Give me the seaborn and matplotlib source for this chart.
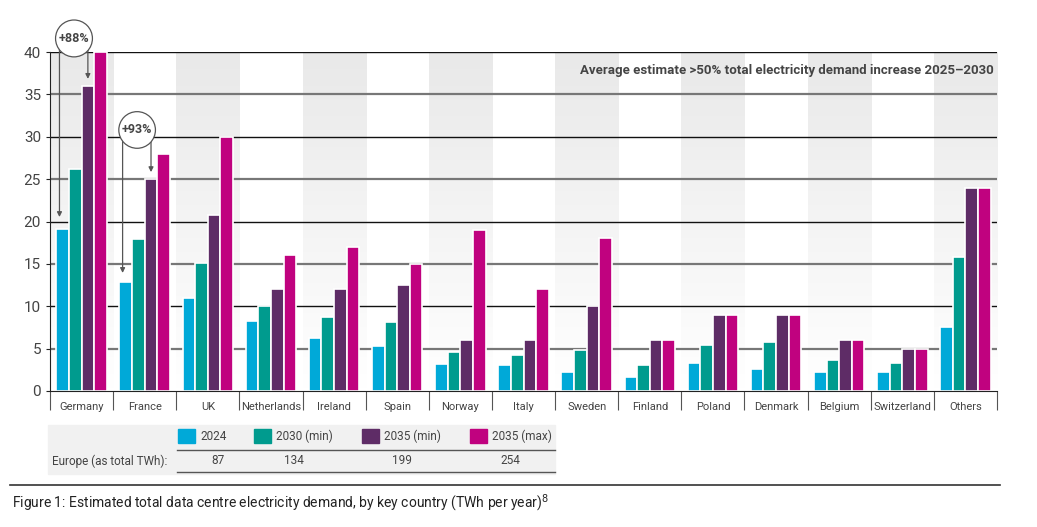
import matplotlib
matplotlib.use("Agg")
import matplotlib.pyplot as plt
import numpy as np
import pandas as pd
import seaborn as sns
from matplotlib.patches import Rectangle

countries = ["Germany", "France", "UK", "Netherlands", "Ireland", "Spain", "Norway", "Italy",
             "Sweden", "Finland", "Poland", "Denmark", "Belgium", "Switzerland", "Others"]
series = ["2024", "2030 (min)", "2035 (min)", "2035 (max)"]
v2024 = [19.1, 12.9, 11.0, 8.3, 6.3, 5.3, 3.2, 3.1, 2.3, 1.7, 3.3, 2.6, 2.2, 2.2, 7.6]
v2030 = [26.2, 17.9, 15.1, 10.0, 8.7, 8.2, 4.6, 4.3, 4.8, 3.1, 5.4, 5.8, 3.6, 3.3, 15.8]
v2035min = [36.0, 25.0, 20.8, 12.0, 12.0, 12.5, 6.0, 6.0, 10.0, 6.0, 9.0, 9.0, 6.0, 5.0, 24.0]
v2035max = [40.0, 28.0, 30.0, 16.0, 17.0, 15.0, 19.0, 12.0, 18.0, 6.0, 9.0, 9.0, 6.0, 5.0, 24.0]
europe_totals = ["87", "134", "199", "254"]
colors = ["#00A9D8", "#009B8E", "#5E2C66", "#C0027F"]

df = pd.DataFrame({"country": countries * 4,
                   "series": np.repeat(series, len(countries)),
                   "value": v2024 + v2030 + v2035min + v2035max})

W, H = 1037, 527
fig = plt.figure(figsize=(W / 100, H / 100), dpi=100)
plt.rcParams["font.family"] = ["Roboto", "DejaVu Sans"]


def px(x, y):
    return (x / W, 1 - y / H)


ax = fig.add_axes([50 / W, 1 - 391 / H, (997 - 50) / W, (391 - 52) / H])

# shaded alternating columns, fading toward the bottom
grad = np.linspace(0, 1, 100).reshape(-1, 1)
fade = matplotlib.colors.LinearSegmentedColormap.from_list("g", ["#e9e9e9", "#ffffff"])
for i in range(0, len(countries), 2):
    ax.imshow(grad, extent=(i - 0.5, i + 0.5, 0, 40), aspect="auto", origin="upper",
              cmap=fade, zorder=0)

for y in range(5, 45, 5):
    ax.axhline(y, color="#111111" if y % 10 == 0 else "#777777",
               lw=1.0 if y % 10 == 0 else 1.6, zorder=1)

sns.barplot(data=df, x="country", y="value", hue="series", palette=colors, width=0.8,
            saturation=1, edgecolor="white", linewidth=1.2, legend=False, ax=ax, zorder=2)

ax.set_xlim(-0.5, len(countries) - 0.5)
ax.set_ylim(0, 40)
ax.set_xlabel("")
ax.set_ylabel("")
for s in ["top", "right"]:
    ax.spines[s].set_visible(False)
ax.spines["left"].set_color("#222222")
ax.spines["bottom"].set_color("#222222")
ax.set_yticks(range(0, 45, 5))
ax.tick_params(axis="y", length=3, labelsize=11, labelcolor="#444444", color="#222222")
ax.tick_params(axis="x", which="major", length=0, labelsize=8, labelcolor="#444444", pad=8)
ax.set_xticks(np.arange(-0.5, len(countries), 1), minor=True)
ax.tick_params(axis="x", which="minor", length=14, color="#555555", width=0.8)

ax.text(14.45, 37.8, "Average estimate >50% total electricity demand increase 2025\u20132030",
        ha="right", va="center", fontsize=9.5, fontweight="bold", color="#444444", zorder=5)

# percentage annotations
for label, cx, cy, targets in [("+88%", -0.12, 41.6, [(-0.35, 20.2), (0.1, 36.5)]),
                               ("+93%", 0.88, 30.8, [(0.65, 13.6), (1.1, 25.5)])]:
    for tx, ty in targets:
        ax.annotate("", xy=(tx, ty), xytext=(tx, cy),
                    arrowprops=dict(arrowstyle="-|>", color="#555555", lw=0.9, mutation_scale=7),
                    annotation_clip=False, zorder=4)
    ax.text(cx, cy, label, ha="center", va="center", fontsize=9, fontweight="bold",
            color="#444444", zorder=6, clip_on=False,
            bbox=dict(boxstyle="circle,pad=0.25", fc="white", ec="#555555", lw=0.9))

# legend / total table
fig.patches.append(Rectangle(px(48, 474), 507 / W, 49 / H, transform=fig.transFigure,
                             color="#f1f1f1", zorder=0))
leg_x = [178, 254, 362, 470]
for x, c, s, t in zip(leg_x, colors, series, europe_totals):
    fig.patches.append(Rectangle(px(x, 443), 17 / W, 14 / H, transform=fig.transFigure,
                                 color=c, zorder=1))
    fig.text(*px(x + 22, 436), s, fontsize=8.5, color="#444444", va="center")
    fig.text(*px(x + 40, 461), t, fontsize=8.5, color="#444444", va="center", ha="center")
fig.text(*px(52, 461), "Europe (as total TWh):", fontsize=8.5, color="#444444", va="center")
for y in (450, 472):
    fig.add_artist(plt.Line2D([177 / W, 555 / W], [1 - y / H] * 2, color="#555555", lw=1))

fig.add_artist(plt.Line2D([10 / W, 1000 / W], [1 - 485 / H] * 2, color="#333333", lw=1.2))
fig.text(*px(12, 503), "Figure 1: Estimated total data centre electricity demand, by key country (TWh per year)$^{8}$",
         fontsize=10, color="#222222", va="center")

fig.savefig("out.png", dpi=100)
